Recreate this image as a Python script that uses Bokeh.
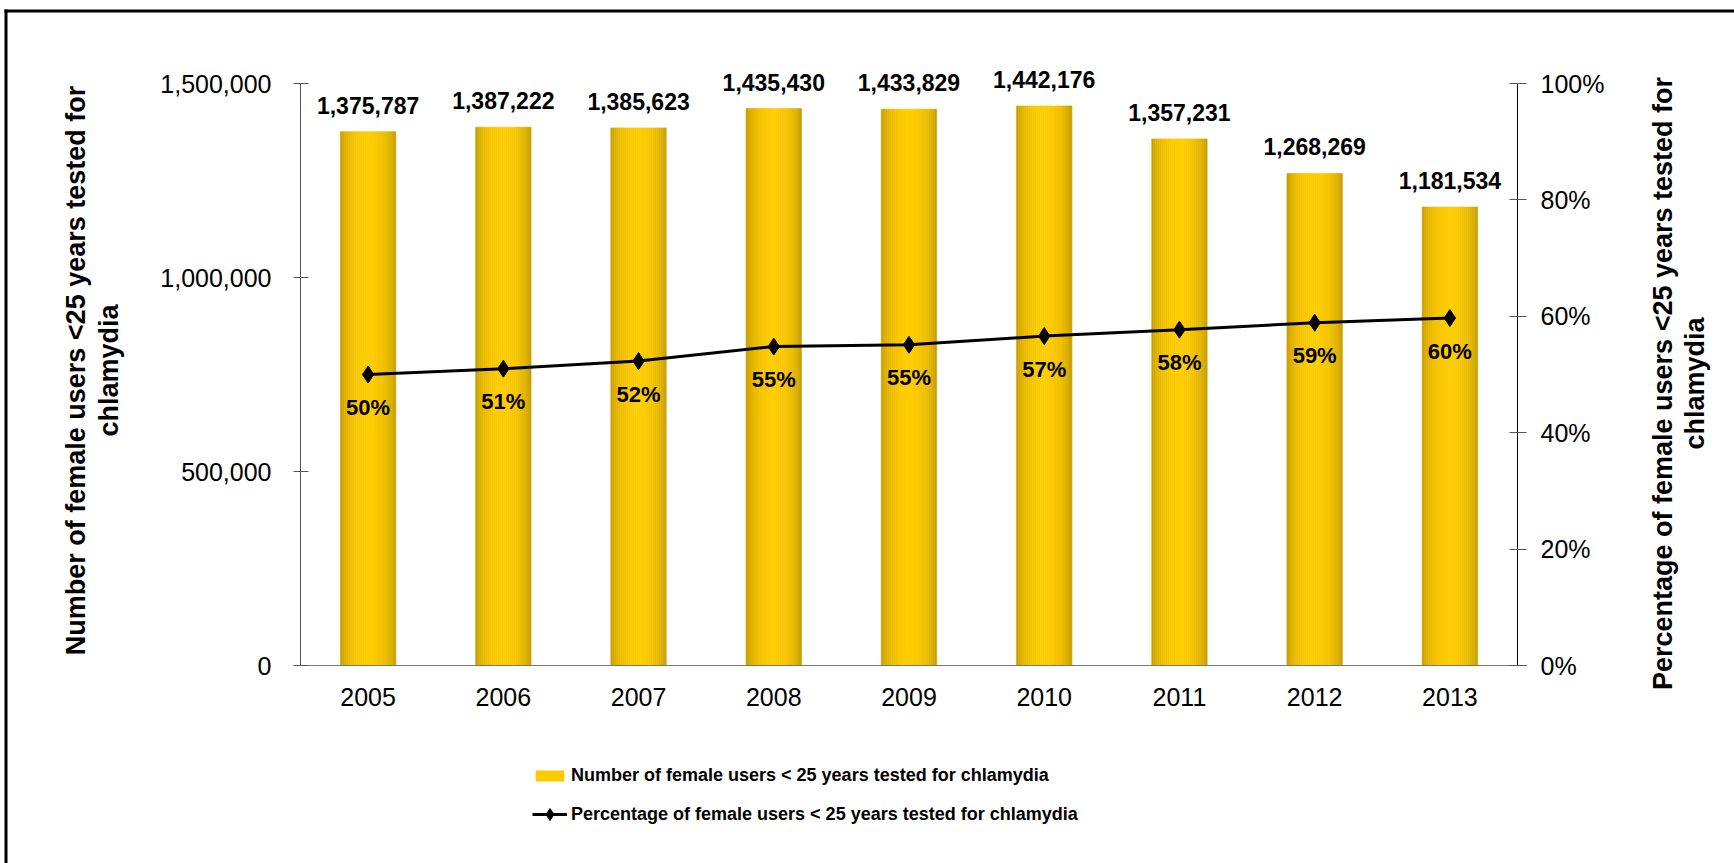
import math

from bokeh.core.properties import value
from bokeh.embed import file_html
from bokeh.models import (BoxAnnotation, ColumnDataSource, FixedTicker, Label, LabelSet,
                          Legend, LegendItem, LinearAxis, NumeralTickFormatter, Range1d)
from bokeh.plotting import figure
from bokeh.resources import INLINE
from bokeh.transform import dodge

# ---- data -------------------------------------------------------------
years = ["2005", "2006", "2007", "2008", "2009", "2010", "2011", "2012", "2013"]
tested_counts = [1375787, 1387222, 1385623, 1435430, 1433829, 1442176, 1357231, 1268269, 1181534]
tested_share = [0.500, 0.510, 0.523, 0.548, 0.551, 0.566, 0.577, 0.589, 0.597]
count_ticks = [0, 500000, 1000000, 1500000]
share_ticks = [0.0, 0.2, 0.4, 0.6, 0.8, 1.0]

count_name = "Number of female users < 25 years tested for chlamydia"
share_name = "Percentage of female users < 25 years tested for chlamydia"
left_title = ["Number of female users <25 years tested for", "chlamydia"]
right_title = ["Percentage of female users <25 years tested for", "chlamydia"]

positions = list(range(len(years)))
source = ColumnDataSource(dict(
    pos=positions,
    year=years,
    count=tested_counts,
    share=tested_share,
    count_label=[f"{v:,}" for v in tested_counts],
    share_label=[f"{round(v * 100):d}%" for v in tested_share],
))

# ---- page geometry (pixels, from the top-left corner) ---------------------
PAGE_W, PAGE_H = 1734, 863
FRAME_L, FRAME_R = 300, 1517   # left / right value axes
AXIS_TOP, AXIS_BOT = 83, 665   # 1,500,000 / 100% row and the zero row
SANS = "Liberation Sans"

n = len(years)
step = (FRAME_R - FRAME_L) / n                 # pixels per category
x0 = -0.5 - FRAME_L / step
count_per_px = count_ticks[-1] / (AXIS_BOT - AXIS_TOP)
share_per_px = share_ticks[-1] / (AXIS_BOT - AXIS_TOP)

# The plot area fills the whole page; the axes are pinned at their places
# inside it so that labels and titles have room all round.
p = figure(
    x_range=Range1d(x0, x0 + PAGE_W / step),
    y_range=Range1d(-(PAGE_H - AXIS_BOT) * count_per_px, AXIS_BOT * count_per_px),
    width=PAGE_W, height=PAGE_H, output_backend="svg", toolbar_location=None,
    x_axis_type=None, y_axis_type=None,
    min_border_left=0, min_border_right=0, min_border_top=0, min_border_bottom=0,
    background_fill_color="white", border_fill_color="white",
)
p.outline_line_color = None
p.xgrid.visible = False
p.ygrid.visible = False
p.extra_y_ranges = {
    "pct": Range1d(-(PAGE_H - AXIS_BOT) * share_per_px, AXIS_BOT * share_per_px),
    "py": Range1d(PAGE_H, 0),
}
p.extra_x_ranges = {"px": Range1d(0, PAGE_W)}
left_edge = -0.5
right_edge = n - 0.5

# left axis (counts)
ya = LinearAxis(
    fixed_location=left_edge, bounds=(count_ticks[0], count_ticks[-1]),
    ticker=FixedTicker(ticks=count_ticks), formatter=NumeralTickFormatter(format="0,0"),
)
ya.minor_tick_line_color = None
ya.major_tick_in = 8
ya.major_tick_out = 7
ya.axis_line_color = "#555555"
ya.major_tick_line_color = "#555555"
ya.major_label_text_font = SANS
ya.major_label_text_font_size = "25px"
ya.major_label_text_color = "black"
ya.major_label_standoff = 22
p.add_layout(ya, "left")

# bottom axis (years); the rule runs out to the tick ends of both value axes
xa = LinearAxis(
    fixed_location=0, bounds=(left_edge - 7 / step, right_edge + 9 / step),
    ticker=FixedTicker(ticks=positions),
    major_label_overrides={i: y for i, y in zip(positions, years)},
)
xa.major_tick_line_color = None
xa.minor_tick_line_color = None
xa.axis_line_color = "#777777"
xa.major_label_text_font = SANS
xa.major_label_text_font_size = "25px"
xa.major_label_text_color = "black"
xa.major_label_standoff = 16
p.add_layout(xa, "below")

# right axis (share)
ra = LinearAxis(
    y_range_name="pct", fixed_location=right_edge,
    bounds=(share_ticks[0], share_ticks[-1]),
    ticker=FixedTicker(ticks=share_ticks),
    formatter=NumeralTickFormatter(format="0%"),
)
ra.minor_tick_line_color = None
ra.major_tick_in = 8
ra.major_tick_out = 9
ra.axis_line_color = "black"
ra.major_tick_line_color = "#555555"
ra.major_label_text_font = SANS
ra.major_label_text_font_size = "25px"
ra.major_label_text_color = "black"
ra.major_label_standoff = 14
p.add_layout(ra, "right")

# ---- gold cylinder bars: thin vertical strips shaded across the width --
BAR_W = 0.41
N_STRIPS = 28
edge_rgb = (190, 150, 0)
mid_rgb = (255, 204, 0)
strip_w = BAR_W / N_STRIPS
bar_renderers = []
for i in range(N_STRIPS):
    t = (i + 0.5) / N_STRIPS * 2 - 1
    w = math.cos(t * math.pi / 2) ** 0.55
    rgb = tuple(int(round(e + (m - e) * w)) for e, m in zip(edge_rgb, mid_rgb))
    col = "#%02x%02x%02x" % rgb
    r = p.vbar(
        x=dodge("pos", -BAR_W / 2 + (i + 0.5) * strip_w), top="count", bottom=0,
        width=strip_w, source=source,
        fill_color=col, line_color=col, line_width=0.6,
    )
    bar_renderers.append(r)

# ---- share line ---------------------------------------------------------
line_r = p.line(x="pos", y="share", y_range_name="pct", source=source,
                line_color="black", line_width=3)
mark_r = p.scatter(x="pos", y="share", y_range_name="pct", source=source,
                   marker="diamond", size=17, fill_color="black", line_color="black")

# ---- value labels -------------------------------------------------------
p.add_layout(LabelSet(
    x="pos", y="count", text="count_label", source=source,
    y_offset=18, text_align="center", text_baseline="alphabetic",
    text_font=value(SANS), text_font_style="bold", text_font_size="23px",
    text_color="black",
))
p.add_layout(LabelSet(
    x="pos", y="share", text="share_label", source=source, y_range_name="pct",
    y_offset=-33, text_align="center", text_baseline="middle",
    text_font=value(SANS), text_font_style="bold", text_font_size="22px",
    text_color="black",
))


# ---- axis titles (two lines each, reading upwards) ----------------------
def axis_title(lines, xs, y):
    for text, x in zip(lines, xs):
        p.add_layout(Label(
            x=x, y=y, x_range_name="px", y_range_name="py", text=text,
            angle=math.pi / 2, text_align="center", text_baseline="middle",
            text_font=SANS, text_font_style="bold", text_font_size="27px",
            text_color="black",
        ))


axis_title(left_title, [75, 108], 370)
axis_title(right_title, [1662, 1694], 383)

# ---- legend: one entry per series, stacked under the year axis ------------
legend_style = dict(
    orientation="vertical", glyph_width=35, label_standoff=4,
    label_text_font=SANS, label_text_font_style="bold", label_text_font_size="18px",
    label_text_color="black",
    padding=0, margin=0, border_line_color=None, background_fill_alpha=0,
)
bar_legend = Legend(
    items=[LegendItem(label=count_name, renderers=[bar_renderers[N_STRIPS // 2 - 4]])],
    location=(532, PAGE_H - 786), glyph_height=13, label_height=21, **legend_style,
)
line_legend = Legend(
    items=[LegendItem(label=share_name, renderers=[line_r, mark_r])],
    location=(532, PAGE_H - 829), glyph_height=30, label_height=30, **legend_style,
)
p.add_layout(bar_legend, "center")
p.add_layout(line_legend, "center")

# ---- thick black rules along the top and left of the chart ---------------
rule_style = dict(x_range_name="px", y_range_name="py",
                  fill_color="black", fill_alpha=1, line_color=None)
p.add_layout(BoxAnnotation(left=4, right=PAGE_W, top=9, bottom=12, **rule_style))
p.add_layout(BoxAnnotation(left=4, right=7, top=9, bottom=PAGE_H, **rule_style))

open("out.html", "w").write(file_html(p, INLINE))
